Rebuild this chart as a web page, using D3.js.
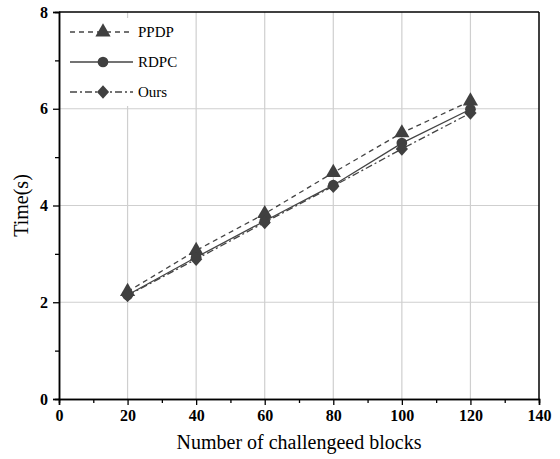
<!DOCTYPE html>
<html>
<head>
<meta charset="utf-8">
<script src="https://cdn.jsdelivr.net/npm/d3@7"></script>
<style>
  body { margin: 0; background: #fff; }
  text { font-family: "Liberation Serif", "Times New Roman", serif; }
</style>
</head>
<body>
<div id="chart"></div>
<script>
// data
var blocks = [20, 40, 60, 80, 100, 120];
var ppdp = [2.22, 3.07, 3.83, 4.68, 5.50, 6.16];
var rdpc = [2.15, 2.93, 3.68, 4.42, 5.29, 5.99];
var ours = [2.14, 2.89, 3.65, 4.40, 5.17, 5.91];
var xTicks = [0, 20, 40, 60, 80, 100, 120, 140];
var yTicks = [0, 2, 4, 6, 8];

var series = [
  {name: "PPDP", values: ppdp, dash: "5,4", symbol: d3.symbolTriangle, size: 100, rot: ""},
  {name: "RDPC", values: rdpc, dash: null, symbol: d3.symbolCircle, size: 90, rot: ""},
  {name: "Ours", values: ours, dash: "7,3,2,3", symbol: d3.symbolSquare, size: 75, rot: " scale(1,1.1) rotate(45)"}
];

var margin = {top: 12, right: 21, bottom: 60, left: 59},
    width = 560 - margin.left - margin.right,
    height = 459 - margin.top - margin.bottom;

var svg = d3.select("#chart")
  .append("svg")
    .attr("width", 560)
    .attr("height", 459)
  .append("g")
    .attr("transform", "translate(" + margin.left + "," + margin.top + ")");

var x = d3.scaleLinear().domain([0, 140]).range([0, width]);
var y = d3.scaleLinear().domain([0, 8]).range([height, 0]);

// grid
svg.selectAll(".vgrid")
  .data(xTicks.filter(function(d) { return d > 0 && d < 140; }))
  .enter().append("line")
    .attr("x1", function(d) { return x(d); })
    .attr("x2", function(d) { return x(d); })
    .attr("y1", 0).attr("y2", height)
    .attr("stroke", "#cfcfcf").attr("stroke-width", 1.2);
svg.selectAll(".hgrid")
  .data(yTicks.filter(function(d) { return d > 0 && d < 8; }))
  .enter().append("line")
    .attr("x1", 0).attr("x2", width)
    .attr("y1", function(d) { return y(d); })
    .attr("y2", function(d) { return y(d); })
    .attr("stroke", "#cfcfcf").attr("stroke-width", 1.2);

// legend background hides grid behind it
svg.append("rect")
  .attr("x", 1).attr("y", 6)
  .attr("width", 130).attr("height", 88)
  .attr("fill", "#fff");

// axes: minor ticks then major ticks with labels
var xMinor = d3.axisBottom(x).tickValues(d3.range(10, 140, 20)).tickSize(4).tickFormat("");
var yMinor = d3.axisLeft(y).tickValues([1, 3, 5, 7]).tickSize(4).tickFormat("");
svg.append("g").attr("transform", "translate(0," + height + ")").call(xMinor);
svg.append("g").call(yMinor);

svg.append("g")
    .attr("transform", "translate(0," + height + ")")
    .call(d3.axisBottom(x).tickValues(xTicks).tickSize(6).tickPadding(5));
svg.append("g")
    .call(d3.axisLeft(y).tickValues(yTicks).tickSize(6).tickPadding(5));

svg.selectAll(".domain").attr("stroke", "#000").attr("stroke-width", 1.5);
svg.selectAll(".tick line").attr("stroke", "#000").attr("stroke-width", 1.3);
svg.selectAll(".tick text")
  .style("font-family", "Liberation Serif")
  .style("font-size", "16px")
  .style("font-weight", "bold")
  .attr("fill", "#000");

// top and right frame
svg.append("line").attr("x1", 0).attr("x2", width).attr("y1", 0).attr("y2", 0)
  .attr("stroke", "#000").attr("stroke-width", 1.5);
svg.append("line").attr("x1", width).attr("x2", width).attr("y1", 0).attr("y2", height)
  .attr("stroke", "#000").attr("stroke-width", 1.5);

// series
var line = d3.line()
  .x(function(d, i) { return x(blocks[i]); })
  .y(function(d) { return y(d); });

series.forEach(function(s) {
  svg.append("path")
    .datum(s.values)
    .attr("d", line)
    .attr("fill", "none")
    .attr("stroke", "#444")
    .attr("stroke-width", 1.3)
    .attr("stroke-dasharray", s.dash);
  svg.selectAll(null)
    .data(s.values)
    .enter().append("path")
      .attr("d", d3.symbol().type(s.symbol).size(s.size))
      .attr("transform", function(d, i) { return "translate(" + x(blocks[i]) + "," + y(d) + ")" + s.rot; })
      .attr("fill", "#404040");
});

// legend
var legend = svg.selectAll(".legend")
  .data(series)
  .enter().append("g")
    .attr("transform", function(d, i) { return "translate(11," + (20 + i * 30) + ")"; });
legend.append("line")
  .attr("x1", 0).attr("x2", 63)
  .attr("stroke", "#444").attr("stroke-width", 1.3)
  .attr("stroke-dasharray", function(d) { return d.dash; });
legend.append("path")
  .attr("d", function(d) { return d3.symbol().type(d.symbol).size(d.size)(); })
  .attr("transform", function(d) { return "translate(33,0)" + d.rot; })
  .attr("fill", "#404040");
legend.append("text")
  .attr("x", 68).attr("y", 5)
  .style("font-size", "15px")
  .text(function(d) { return d.name; });

// axis titles
svg.append("text")
  .attr("text-anchor", "middle")
  .attr("x", width / 2)
  .attr("y", height + 50)
  .style("font-size", "20px")
  .text("Number of challengeed blocks");
svg.append("text")
  .attr("text-anchor", "middle")
  .attr("transform", "rotate(-90)")
  .attr("x", -height / 2)
  .attr("y", -31)
  .style("font-size", "20px")
  .text("Time(s)");
</script>
</body>
</html>
